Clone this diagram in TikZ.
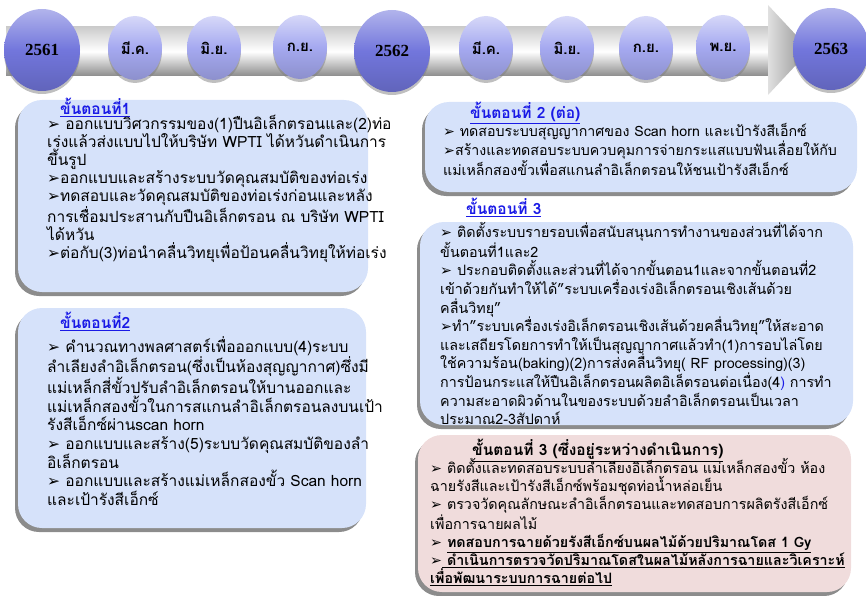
\documentclass[tikz,border=0pt]{standalone}
\usepackage{fontspec}
\usetikzlibrary{shapes.geometric,shadows}
\setmainfont{Liberation Serif}
\newfontfamily\thai[Script=Thai]{Loma}
\newfontfamily\dv{DejaVu Sans}
\newcommand\myarr{{\dv ➢}}
\definecolor{boxblue}{HTML}{D6E2FA}
\definecolor{boxpink}{HTML}{F0DCDC}
\definecolor{ttlblue}{HTML}{1A1AE6}
\definecolor{bigc}{HTML}{7276DC}
\definecolor{smallc}{HTML}{A5A9F0}
\tikzset{
  panel/.style={rounded corners=24pt, fill=boxblue,
    drop shadow={shadow xshift=-3pt,shadow yshift=-4pt,opacity=.6,fill=black!75}},
  pinkpanel/.style={panel, fill=boxpink},
  body/.style={anchor=north west, align=left, inner sep=0pt,
    font=\thai\fontsize{15.5}{18}\selectfont},
  bodysm/.style={body, font=\thai\fontsize{14.3}{18.6}\selectfont},
  ttl/.style={anchor=north west, inner sep=0pt, text=ttlblue,
    font=\thai\bfseries\fontsize{15.5}{17}\selectfont},
  bigyear/.style={ellipse, minimum width=76pt, minimum height=82pt, inner sep=0pt,
    top color=bigc!55!white, bottom color=bigc!85!black, middle color=bigc,
    drop shadow={shadow xshift=0pt,shadow yshift=-3pt,opacity=.5},
    font=\bfseries\fontsize{17}{17}\selectfont},
  month/.style={ellipse, minimum width=54pt, minimum height=64pt, inner sep=0pt,
    top color=smallc!45!white, bottom color=smallc!85!black, middle color=smallc,
    drop shadow={shadow xshift=0pt,shadow yshift=-3pt,opacity=.5},
    font=\thai\bfseries\fontsize{15}{15}\selectfont}
}
\begin{document}
\begin{tikzpicture}[x=1pt,y=-1pt]
\useasboundingbox (0,0) rectangle (866,596);
% timeline arrow
\shade[top color=black!20, bottom color=black!45, middle color=white] (6,27) rectangle (770,76);
\shade[left color=black!12, right color=black!45] (768,5) -- (810,50) -- (768,95) -- cycle;
% circles
\node[bigyear] (y1) at (42,50) {2561};
\node[month] (m1) at (135,48) {มี.ค.};
\node[month] (m2) at (214,48) {มิ.ย.};
\node[month] (m3) at (300,47) {ก.ย.};
\node[bigyear] (y2) at (392,51) {2562};
\node[month] (m4) at (486,48) {มี.ค.};
\node[month] (m5) at (567,48) {มิ.ย.};
\node[month] (m6) at (646,48) {ก.ย.};
\node[month] (m7) at (723,47) {พ.ย.};
\node[bigyear] (y3) at (831,49) {2563};
% panels
\path[panel] (18,100) rectangle (368,292);
\path[panel] (18,308) rectangle (366,528);
\path[panel] (425,102) rectangle (857,192);
\path[panel] (420,222) rectangle (853,425);
\path[pinkpanel] (418,435) rectangle (851,592);
% box 1
\node[ttl] (t1) at (60,98) {\underline{ขั้นตอนที่1}};
\node[body] (b1) at (47,115) {\myarr{} ออกแบบวิศวกรรมของ(1)ปืนอิเล็กตรอนและ(2)ท่อ\\
เร่งแล้วส่งแบบไปให้บริษัท WPTI ได้หวันดำเนินการ\\
ขึ้นรูป\\
\myarr{}ออกแบบและสร้างระบบวัดคุณสมบัติของท่อเร่ง\\
\myarr{}ทดสอบและวัดคุณสมบัติของท่อเร่งก่อนและหลัง\\
การเชื่อมประสานกับปืนอิเล็กตรอน ณ บริษัท WPTI\\
ได้หวัน\\
\myarr{}ต่อกับ(3)ท่อนำคลื่นวิทยุเพื่อป้อนคลื่นวิทยุให้ท่อเร่ง};
% box 2
\node[ttl] (t2) at (60,312) {\underline{ขั้นตอนที่2}};
\node[body, font=\thai\fontsize{15.5}{18.55}\selectfont] (b2) at (47,336) {\myarr{} คำนวณทางพลศาสตร์เพื่อออกแบบ(4)ระบบ\\
ลำเลียงลำอิเล็กตรอน(ซึ่งเป็นห้องสุญญากาศ)ซึ่งมี\\
แม่เหล็กสี่ขั้วปรับลำอิเล็กตรอนให้บานออกและ\\
แม่เหล็กสองขั้วในการสแกนลำอิเล็กตรอนลงบนเป้า\\
รังสีเอ็กซ์ผ่านscan horn\\
\myarr{} ออกแบบและสร้าง(5)ระบบวัดคุณสมบัติของลำ\\
อิเล็กตรอน\\
\myarr{} ออกแบบและสร้างแม่เหล็กสองขั้ว Scan horn\\
และเป้ารังสีเอ็กซ์};
% box 3
\node[ttl] (t3) at (470,102) {\underline{ขั้นตอนที่ 2 (ต่อ)}};
\node[body, font=\thai\fontsize{14.2}{19.5}\selectfont] (b3) at (443,123) {\myarr{} ทดสอบระบบสุญญากาศของ Scan horn และเป้ารังสีเอ็กซ์\\
\myarr{}สร้างและทดสอบระบบควบคุมการจ่ายกระแสแบบฟันเลื่อยให้กับ\\
แม่เหล็กสองขั้วเพื่อสแกนลำอิเล็กตรอนให้ชนเป้ารังสีเอ็กซ์};
% box 4
\node[ttl] (t4) at (466,198) {\underline{ขั้นตอนที่ 3}};
\node[bodysm] (b4) at (440,222) {\myarr{} ติดตั้งระบบรายรอบเพื่อสนับสนุนการทำงานของส่วนที่ได้จาก\\
ขั้นตอนที่1และ2\\
\myarr{} ประกอบติดตั้งและส่วนที่ได้จากขั้นตอน1และจากขั้นตอนที่2\\
เข้าด้วยกันทำให้ได้”ระบบเครื่องเร่งอิเล็กตรอนเชิงเส้นด้วย\\
คลื่นวิทยุ”\\
\myarr{}ทำ”ระบบเครื่องเร่งอิเล็กตรอนเชิงเส้นด้วยคลื่นวิทยุ”ให้สะอาด\\
และเสถียรโดยการทำให้เป็นสุญญากาศแล้วทำ(1)การอบไล่โดย\\
ใช้ความร้อน(baking)(2)การส่งคลื่นวิทยุ( RF processing)(3)\\
การป้อนกระแสให้ปืนอิเล็กตรอนผลิตอิเล็ตรอนต่อเนื่อง(4\textcolor{ttlblue}{)} การทำ\\
ความสะอาดผิวด้านในของระบบด้วยลำอิเล็กตรอนเป็นเวลา\\
ประมาณ2-3สัปดาห์};
% box 5
\node[ttl, text=black] (t5) at (472,439) {\underline{ขั้นตอนที่ 3 (ซึ่งอยู่ระหว่างดำเนินการ)}};
\node[bodysm, font=\thai\fontsize{14.3}{18.2}\selectfont] (b5) at (430,458) {\myarr{} ติดตั้งและทดสอบระบบลำเลียงอิเล็กตรอน แม่เหล็กสองขั้ว ห้อง\\
ฉายรังสีและเป้ารังสีเอ็กซ์พร้อมชุดท่อน้ำหล่อเย็น\\
\myarr{} ตรวจวัดคุณลักษณะลำอิเล็กตรอนและทดสอบการผลิตรังสีเอ็กซ์\\
เพื่อการฉายผลไม้\\
\textbf{\myarr{} \underline{ทดสอบการฉายด้วยรังสีเอ็กซ์บนผลไม้ด้วยปริมาณโดส 1 Gy}}\\
\textbf{\myarr{}\underline{ ดำเนินการตรวจวัดปริมาณโดสในผลไม้หลังการฉายและวิเคราะห์}}\\
\textbf{\underline{เพื่อพัฒนาระบบการฉายต่อไป}}};
\end{tikzpicture}
\end{document}
